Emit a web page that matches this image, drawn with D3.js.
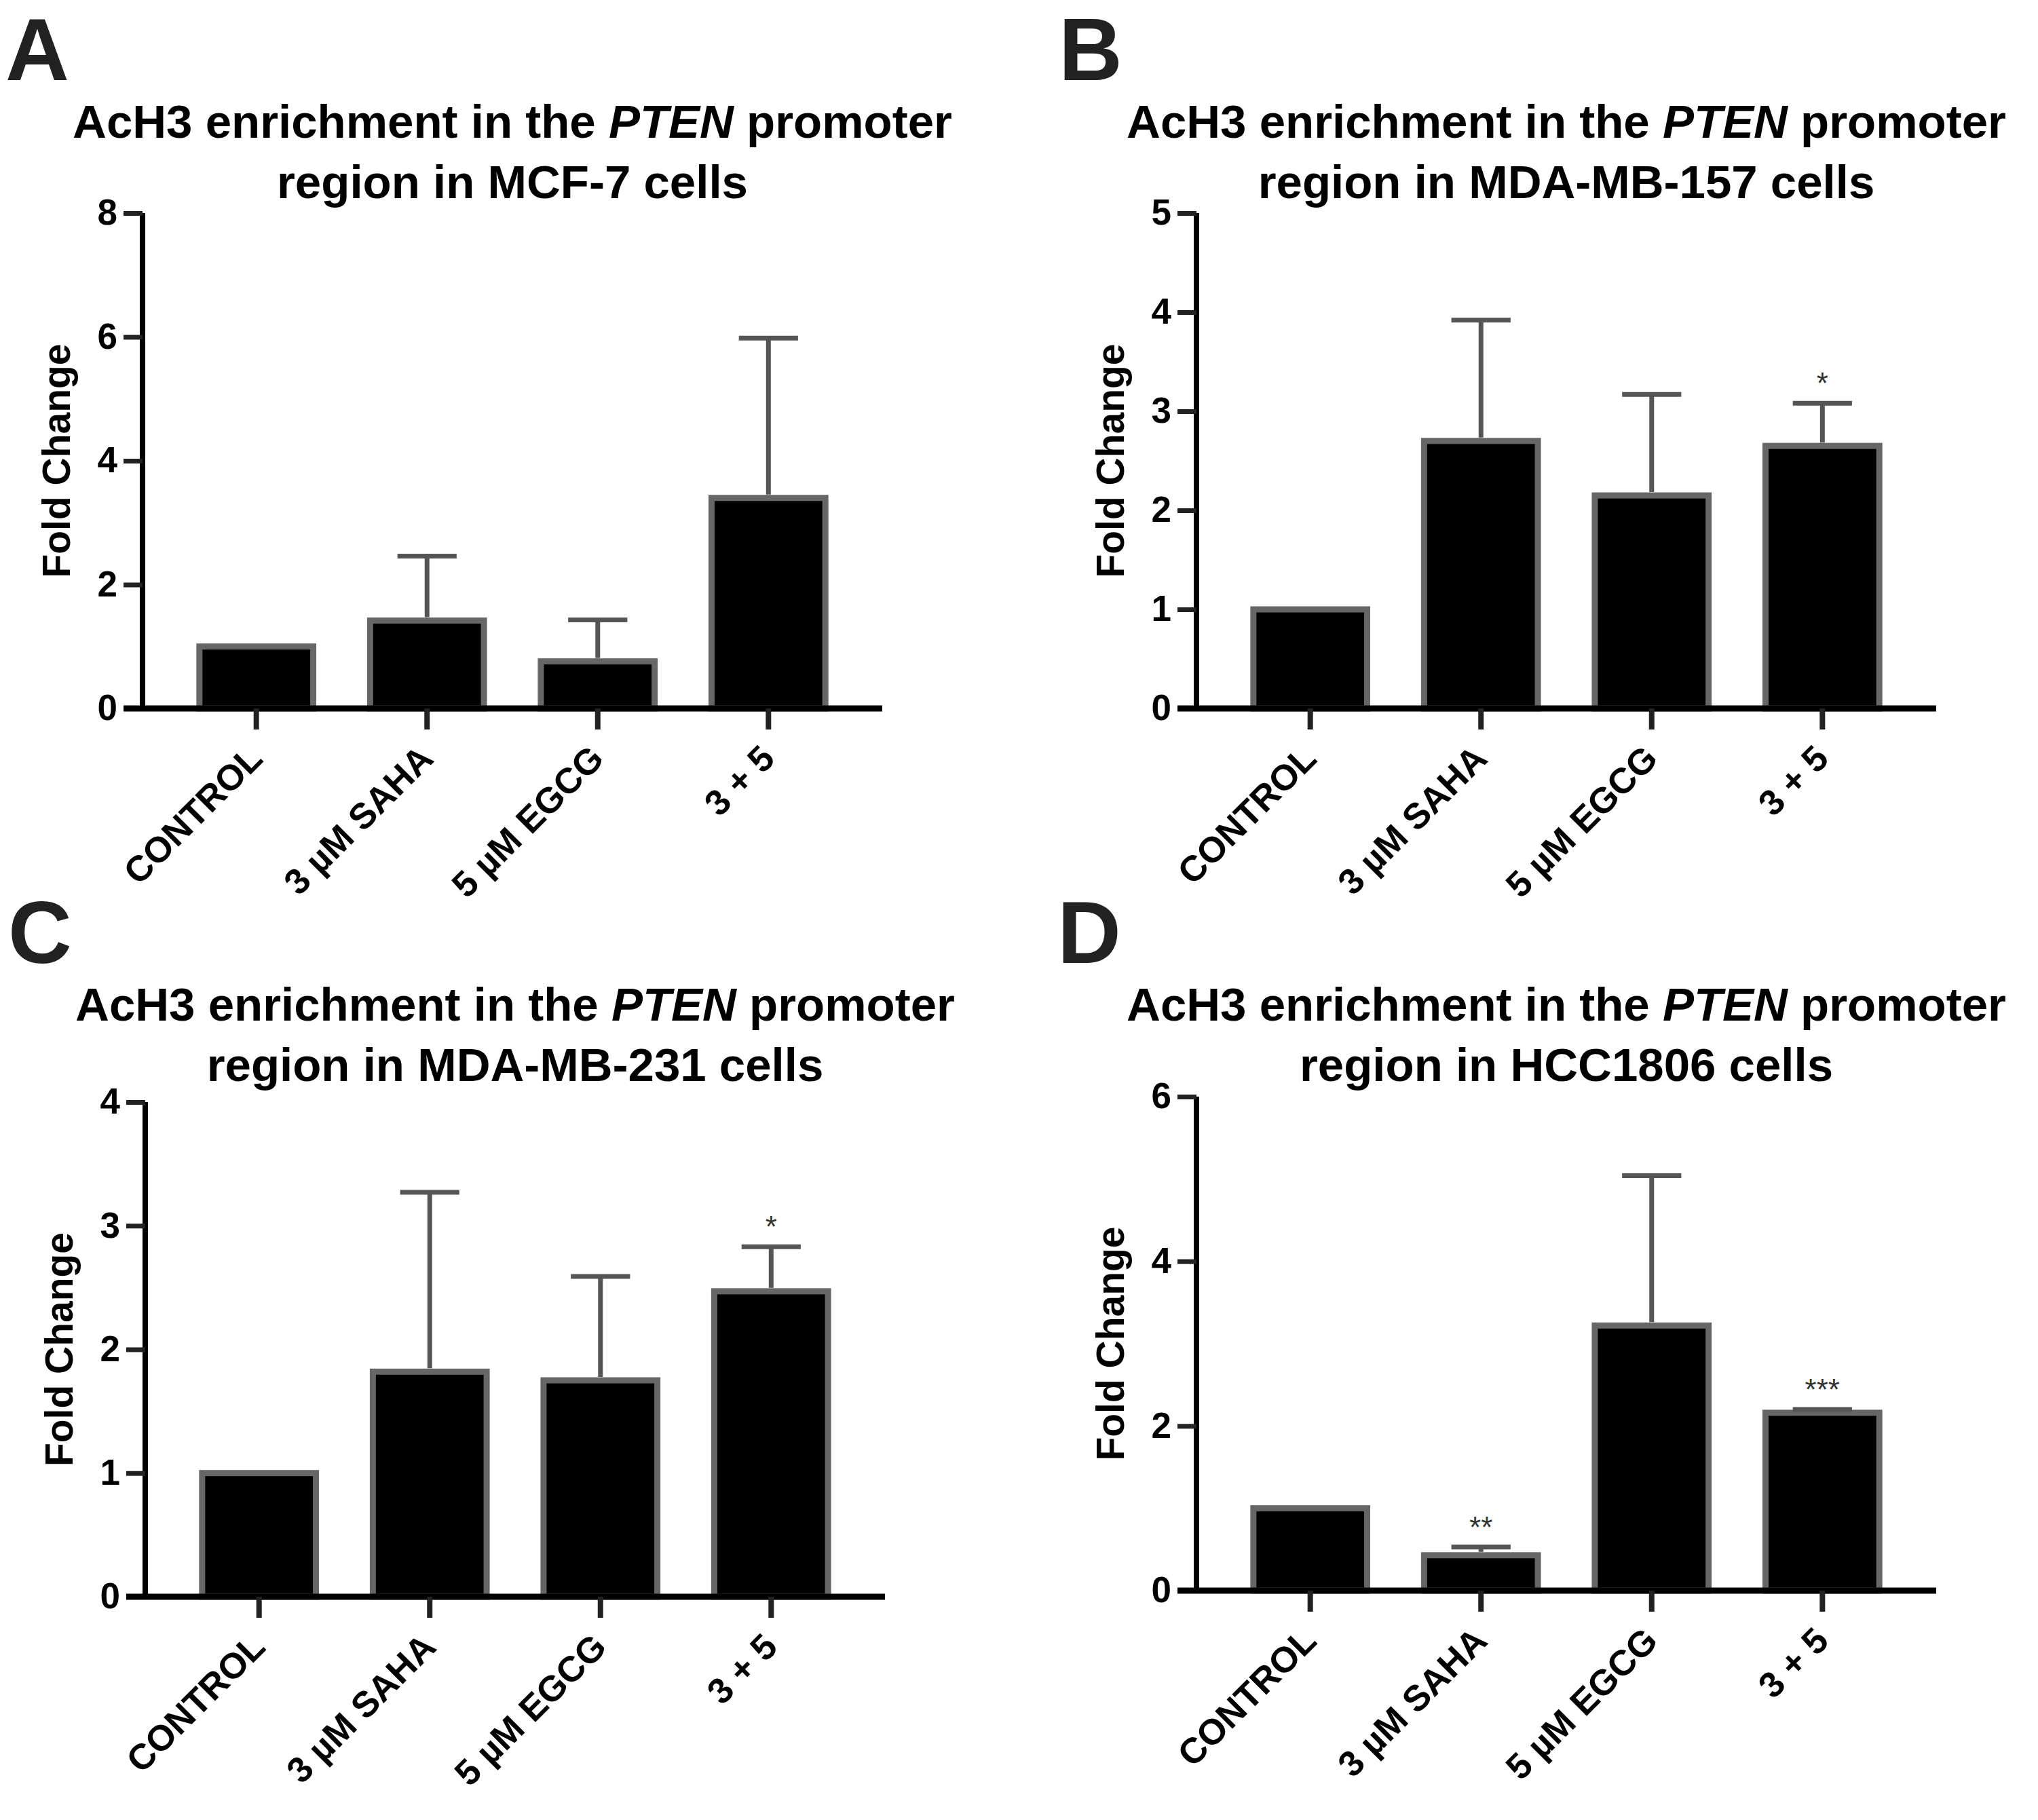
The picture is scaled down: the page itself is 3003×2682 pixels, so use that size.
<!DOCTYPE html>
<html>
<head>
<meta charset="utf-8">
<script src="https://cdn.jsdelivr.net/npm/d3@7"></script>
<style>
    body { margin: 0; background: #fff; }
    svg { display: block; font-family: "Liberation Sans", Arial, Helvetica, sans-serif; }
</style>
</head>
<body>
<div id="chart"></div>
<script>
const categories = ['CONTROL', '3 \u00b5M SAHA', '5 \u00b5M EGCG', '3 + 5'];

const panelLetters = ['A', 'B', 'C', 'D'];
const cellLines = ['MCF-7', 'MDA-MB-157', 'MDA-MB-231', 'HCC1806'];

// mean fold change and upper error (SEM) per treatment
const mcf7Mean = [1.0, 1.42, 0.76, 3.40];
const mcf7Err = [0, 1.04, 0.67, 2.58];
const mcf7Ticks = [0, 2, 4, 6, 8];
const mcf7Stars = ['', '', '', ''];

const mda157Mean = [1.0, 2.70, 2.15, 2.65];
const mda157Err = [0, 1.22, 1.02, 0.43];
const mda157Ticks = [0, 1, 2, 3, 4, 5];
const mda157Stars = ['', '', '', '*'];

const mda231Mean = [1.0, 1.82, 1.75, 2.47];
const mda231Err = [0, 1.45, 0.84, 0.36];
const mda231Ticks = [0, 1, 2, 3, 4];
const mda231Stars = ['', '', '', '*'];

const hcc1806Mean = [1.0, 0.43, 3.22, 2.16];
const hcc1806Err = [0, 0.10, 1.82, 0.04];
const hcc1806Ticks = [0, 2, 4, 6];
const hcc1806Stars = ['', '**', '', '***'];

const panels = [
    {mean: mcf7Mean, err: mcf7Err, ticks: mcf7Ticks, stars: mcf7Stars},
    {mean: mda157Mean, err: mda157Err, ticks: mda157Ticks, stars: mda157Stars},
    {mean: mda231Mean, err: mda231Err, ticks: mda231Ticks, stars: mda231Stars},
    {mean: hcc1806Mean, err: hcc1806Err, ticks: hcc1806Ticks, stars: hcc1806Stars}
];

// where each panel sits on the page
const layout = [
    {letterX: 8, letterY: 118, titleY: 203, x0: 210, top: 314, bottom: 1044},
    {letterX: 1560, letterY: 118, titleY: 203, x0: 1763, top: 314, bottom: 1044},
    {letterX: 12, letterY: 1419, titleY: 1504, x0: 214, top: 1624, bottom: 2353},
    {letterX: 1558, letterY: 1419, titleY: 1504, x0: 1763, top: 1616, bottom: 2344}
];

const plotWidth = 1090;

const svg = d3.select('#chart')
    .append('svg')
    .attr('width', 3003)
    .attr('height', 2682);

svg.append('rect')
    .attr('width', 3003)
    .attr('height', 2682)
    .attr('fill', '#fff');

panels.forEach((p, i) => drawPanel(p, layout[i], panelLetters[i], cellLines[i]));

function drawPanel(p, pos, letter, cellLine) {
    const g = svg.append('g');
    const x1 = pos.x0 + plotWidth;
    const cx = (pos.x0 + x1) / 2;

    g.append('text')
        .attr('x', pos.letterX)
        .attr('y', pos.letterY)
        .attr('font-size', 130)
        .attr('font-weight', 'bold')
        .attr('fill', '#222')
        .text(letter);

    const title = g.append('text')
        .attr('text-anchor', 'middle')
        .attr('font-size', 69)
        .attr('font-weight', 'bold')
        .attr('fill', '#000');

    const line1 = title.append('tspan').attr('x', cx).attr('y', pos.titleY);
    line1.append('tspan').text('AcH3 enrichment in the ');
    line1.append('tspan').attr('font-style', 'italic').text('PTEN');
    line1.append('tspan').text(' promoter');

    title.append('tspan')
        .attr('x', cx)
        .attr('y', pos.titleY + 89)
        .text(`region in ${cellLine} cells`);

    const x = d3.scaleBand()
        .domain(categories)
        .range([pos.x0, x1])
        .paddingInner(1 / 3)
        .paddingOuter(1 / 3);

    const y = d3.scaleLinear()
        .domain([0, d3.max(p.ticks)])
        .range([pos.bottom, pos.top]);

    // bars
    g.selectAll('.bar')
        .data(categories)
        .enter()
        .append('rect')
        .attr('x', d => x(d))
        .attr('y', (d, i) => y(p.mean[i]))
        .attr('width', x.bandwidth())
        .attr('height', (d, i) => y(0) - y(p.mean[i]))
        .attr('fill', '#000')
        .attr('stroke', '#666')
        .attr('stroke-width', 9);

    // error bars (upper only)
    const capW = x.bandwidth() * 0.52;
    categories.forEach((c, i) => {
        if (p.err[i] <= 0) return;
        const bx = x(c) + x.bandwidth() / 2;
        const yTop = y(p.mean[i] + p.err[i]);
        g.append('line')
            .attr('x1', bx).attr('x2', bx)
            .attr('y1', y(p.mean[i]) - 5).attr('y2', yTop)
            .attr('stroke', '#555')
            .attr('stroke-width', 7);
        g.append('line')
            .attr('x1', bx - capW / 2).attr('x2', bx + capW / 2)
            .attr('y1', yTop).attr('y2', yTop)
            .attr('stroke', '#555')
            .attr('stroke-width', 7);
        if (p.stars[i]) {
            g.append('text')
                .attr('x', bx)
                .attr('y', yTop - 14)
                .attr('text-anchor', 'middle')
                .attr('font-size', 44)
                .attr('fill', '#333')
                .text(p.stars[i]);
        }
    });

    // y axis
    const yAxis = g.append('g')
        .attr('transform', `translate(${pos.x0},0)`)
        .call(d3.axisLeft(y).tickValues(p.ticks).tickSize(28).tickPadding(9).tickFormat(d3.format('d')));
    yAxis.select('.domain')
        .attr('d', `M0,${pos.top}V${pos.bottom}`)
        .attr('stroke', '#000')
        .attr('stroke-width', 8);
    yAxis.selectAll('.tick line')
        .attr('stroke', '#222')
        .attr('stroke-width', 7);
    yAxis.selectAll('.tick text')
        .attr('font-size', 53)
        .attr('font-weight', 'bold')
        .attr('font-family', '"Liberation Sans", Arial, sans-serif')
        .attr('fill', '#000');

    g.append('text')
        .attr('transform', `translate(${pos.x0 - 107},${(pos.top + pos.bottom) / 2}) rotate(-90)`)
        .attr('text-anchor', 'middle')
        .attr('font-size', 57)
        .attr('font-weight', 'bold')
        .attr('fill', '#000')
        .text('Fold Change');

    // x axis
    const xAxis = g.append('g')
        .attr('transform', `translate(0,${pos.bottom})`)
        .call(d3.axisBottom(x).tickSize(31).tickFormat(''));
    xAxis.select('.domain')
        .attr('d', `M${pos.x0 - 28},0H${x1}`)
        .attr('stroke', '#000')
        .attr('stroke-width', 9);
    xAxis.selectAll('.tick line')
        .attr('stroke', '#222')
        .attr('stroke-width', 8);

    g.selectAll('.xlabel')
        .data(categories)
        .enter()
        .append('text')
        .attr('transform', d => `translate(${x(d) + x.bandwidth() / 2 + 12},${pos.bottom + 77}) rotate(-45)`)
        .attr('text-anchor', 'end')
        .attr('font-size', 53)
        .attr('font-weight', 'bold')
        .attr('fill', '#000')
        .text(d => d);
}
</script>
</body>
</html>
